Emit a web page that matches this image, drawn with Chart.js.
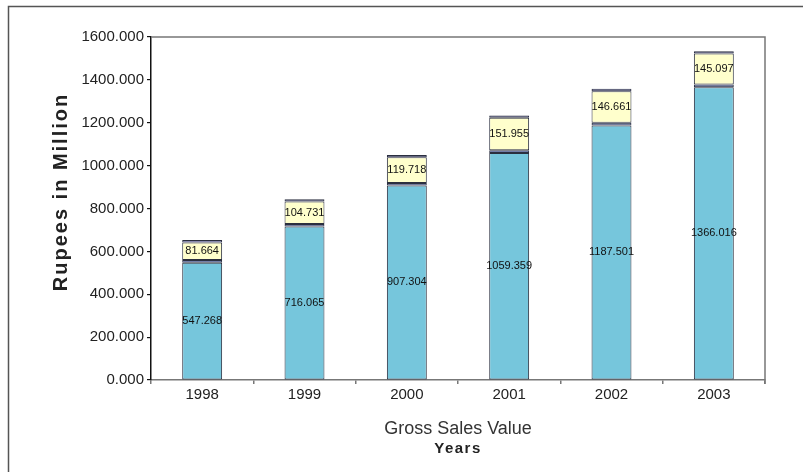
<!DOCTYPE html>
<html>
<head>
<meta charset="utf-8">
<script src="https://cdn.jsdelivr.net/npm/chart.js@4.4.1/dist/chart.umd.min.js"></script>
<style>
  body { margin: 0; background: #fff; }
  #wrap { width: 803px; height: 472px; }
</style>
</head>
<body>
<div id="wrap"><canvas id="salesChart" width="803" height="472"></canvas></div>
<script>
// years and values in Rupees Million
const years = ["1998", "1999", "2000", "2001", "2002", "2003"];
const mainValues = [547.268, 716.065, 907.304, 1059.359, 1187.501, 1366.016];
const lowerBand = [13, 12, 12, 12, 13, 12];
const upperValues = [81.664, 104.731, 119.718, 151.955, 146.661, 145.097];
const topBand = [11, 10, 11, 10, 11, 10];
const yTicks = [0, 200, 400, 600, 800, 1000, 1200, 1400, 1600];

// frame, plot box and the value labels inside the bars
const extras = {
  id: "extras",
  beforeDraw(chart) {
    const ctx = chart.ctx;
    ctx.save();
    ctx.fillStyle = "#fff";
    ctx.fillRect(0, 0, chart.width, chart.height);
    ctx.strokeStyle = "#555";
    ctx.lineWidth = 1.5;
    ctx.strokeRect(8.5, 6.5, chart.width + 20, chart.height + 20);
    ctx.restore();
  },
  afterDraw(chart) {
    const ctx = chart.ctx;
    const a = chart.chartArea;
    ctx.save();
    ctx.strokeStyle = "#777";
    ctx.lineWidth = 1.5;
    ctx.beginPath();
    ctx.moveTo(a.left, a.top);
    ctx.lineTo(a.right, a.top);
    ctx.lineTo(a.right, a.bottom + 4);
    ctx.stroke();

    // numbers inside the cyan and yellow pieces
    ctx.fillStyle = "#111";
    ctx.font = "11px 'Liberation Sans Narrow', 'Arial Narrow', sans-serif";
    ctx.textAlign = "center";
    ctx.textBaseline = "middle";
    [0, 2].forEach((di) => {
      const meta = chart.getDatasetMeta(di);
      const vals = chart.data.datasets[di].data;
      meta.data.forEach((bar, i) => {
        ctx.fillText(vals[i].toFixed(3), bar.x, (bar.y + bar.base) / 2);
      });
    });

    // axis titles
    ctx.fillStyle = "#222";
    ctx.letterSpacing = "2px";
    ctx.font = "bold 20px Arial, 'Liberation Sans', sans-serif";
    ctx.save();
    ctx.translate(61, 192);
    ctx.rotate(-Math.PI / 2);
    ctx.fillText("Rupees in Million", 0, 0);
    ctx.restore();

    const cx = (a.left + a.right) / 2;
    ctx.letterSpacing = "0px";
    ctx.fillStyle = "#333";
    ctx.font = "18px Arial, 'Liberation Sans', sans-serif";
    ctx.fillText("Gross Sales Value", cx, 429);
    ctx.letterSpacing = "1.5px";
    ctx.fillStyle = "#222";
    ctx.font = "bold 15px Arial, 'Liberation Sans', sans-serif";
    ctx.fillText("Years", cx, 449);
    ctx.restore();
  }
};

const ctx = document.getElementById("salesChart").getContext("2d");

new Chart(ctx, {
  type: "bar",
  data: {
    labels: years,
    datasets: [
      { label: "Main", data: mainValues, backgroundColor: "#76C6DC" },
      { label: "Band", data: lowerBand, backgroundColor: "#55639A" },
      { label: "Upper", data: upperValues, backgroundColor: "#FFFFCC" },
      { label: "Top", data: topBand, backgroundColor: "#7C7CBC" },
    ].map((d) => Object.assign(d, {
      borderColor: "#2b2f3f",
      borderWidth: 1,
      borderSkipped: false,
      barPercentage: 0.39,
      categoryPercentage: 1,
    })),
  },
  options: {
    responsive: false,
    animation: false,
    devicePixelRatio: 1,
    layout: { padding: { top: 37, right: 38, left: 0, bottom: 0 } },
    plugins: {
      legend: { display: false },
      tooltip: { enabled: false },
    },
    scales: {
      x: {
        stacked: true,
        afterFit: (scale) => { scale.height = 92; },
        grid: { drawOnChartArea: false, tickLength: 4, color: "#777", lineWidth: 1.5 },
        border: { color: "#777", width: 1.5 },
        ticks: { color: "#222", padding: 2, font: { size: 15, family: "Arial, 'Liberation Sans', sans-serif" } },
      },
      y: {
        stacked: true,
        min: 0,
        max: 1600,
        afterFit: (scale) => { scale.width = 151; },
        afterBuildTicks: (scale) => { scale.ticks = yTicks.map((v) => ({ value: v })); },
        grid: { drawOnChartArea: false, tickLength: 4, color: "#111", lineWidth: 1.2 },
        border: { color: "#111", width: 1.5 },
        ticks: {
          color: "#222",
          padding: 3,
          font: { size: 15, family: "Arial, 'Liberation Sans', sans-serif" },
          callback: (v) => Number(v).toFixed(3),
        },
      },
    },
  },
  plugins: [extras],
});
</script>
</body>
</html>
